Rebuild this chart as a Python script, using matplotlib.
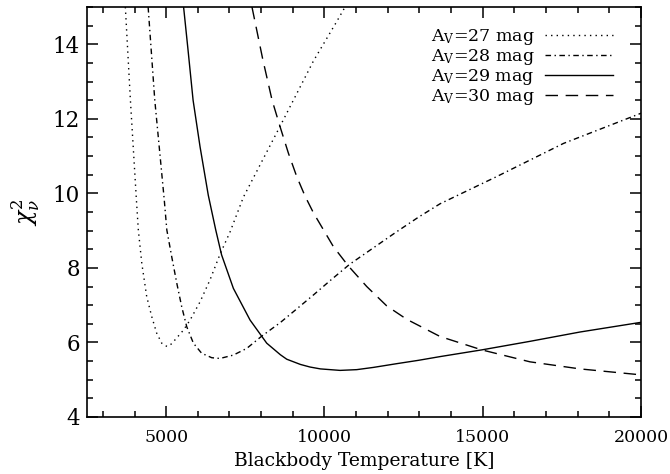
import matplotlib
matplotlib.use("Agg")
import matplotlib.pyplot as plt
from matplotlib.ticker import MultipleLocator

plt.rcParams['font.family'] = ['DejaVu Serif']
plt.rcParams['mathtext.fontset'] = 'dejavuserif'

# Reduced chi-square versus blackbody temperature for four extinction values
T27 = [3710, 3870, 4060, 4120, 4230, 4385, 4545, 4700, 4860, 4950, 5040, 5150,
       5280, 5545, 5755, 6070, 6385, 6702, 7020, 7440, 8597, 9650, 10380, 10650]
chi27 = [15.0, 12.5, 9.82, 9.02, 8.12, 7.23, 6.69, 6.25, 5.98, 5.92, 5.89, 5.95,
         6.07, 6.33, 6.60, 7.09, 7.68, 8.37, 8.97, 9.90, 11.80, 13.55, 14.60, 15.0]

T28 = [4430, 4640, 4940, 5020, 5175, 5335, 5490, 5650, 5860, 6120, 6440, 6700,
       7120, 7545, 8020, 8600, 9125, 9660, 10180, 10800, 12280, 12967, 13650,
       15440, 17550, 20000]
chi28 = [15.0, 12.5, 9.82, 9.02, 8.30, 7.59, 6.96, 6.42, 5.98, 5.71, 5.59, 5.57,
         5.66, 5.84, 6.17, 6.53, 6.90, 7.28, 7.66, 8.10, 8.97, 9.36, 9.72,
         10.45, 11.34, 12.15]

T29 = [5550, 5690, 5850, 6070, 6330, 6565, 6750, 7123, 7650, 8176, 8607, 8808,
       9239, 9545, 9871, 10492, 11018, 11545, 12280, 12967, 13651, 14967, 16494,
       18073, 20000]
chi29 = [15.0, 13.85, 12.5, 11.25, 9.95, 9.02, 8.35, 7.45, 6.60, 5.98, 5.67,
         5.55, 5.41, 5.34, 5.29, 5.25, 5.27, 5.33, 5.43, 5.52, 5.62, 5.80, 6.03,
         6.28, 6.54]

T30 = [7710, 8050, 8345, 8597, 8860, 9124, 9390, 9650, 10282, 10756, 11335,
       11967, 12600, 13650, 14970, 16490, 18070, 20000]
chi30 = [15.0, 13.60, 12.5, 11.79, 11.08, 10.45, 9.92, 9.48, 8.57, 8.05, 7.50,
         6.98, 6.62, 6.16, 5.80, 5.48, 5.29, 5.13]

labels = [r'A$_\mathrm{V}$=27 mag', r'A$_\mathrm{V}$=28 mag',
          r'A$_\mathrm{V}$=29 mag', r'A$_\mathrm{V}$=30 mag']

fig = plt.figure(figsize=(6.7, 4.74), dpi=100)
ax = fig.add_axes([0.1299, 0.1203, 0.8269, 0.8649])

lw = 1.0
ax.plot(T27, chi27, color='black', lw=lw, dashes=(1, 3), label=labels[0])
ax.plot(T28, chi28, color='black', lw=lw, dashes=(4, 2.5, 1, 2.5), label=labels[1])
ax.plot(T29, chi29, color='black', lw=lw, linestyle='-', label=labels[2])
ax.plot(T30, chi30, color='black', lw=lw, dashes=(9, 5.5), label=labels[3])

ax.set_xlim(2500, 20000)
ax.set_ylim(4, 15)

ax.xaxis.set_major_locator(MultipleLocator(5000))
ax.xaxis.set_minor_locator(MultipleLocator(1000))
ax.yaxis.set_major_locator(MultipleLocator(2))
ax.yaxis.set_minor_locator(MultipleLocator(0.5))

ax.tick_params(which='both', direction='in', top=True, right=True, width=1.1,
               color='black')
ax.tick_params(which='major', length=8)
ax.tick_params(which='minor', length=4)
ax.tick_params(axis='x', which='major', labelsize=12.5, pad=9)
ax.tick_params(axis='y', which='major', labelsize=15.5, pad=5)

for sp in ax.spines.values():
    sp.set_linewidth(1.2)

ax.set_xlabel('Blackbody Temperature [K]', fontsize=13.5, labelpad=4)
ax.set_ylabel(r'$\chi^2_\nu$', fontsize=17, labelpad=8)

leg = ax.legend(loc='upper right', bbox_to_anchor=(0.949, 0.952),
                frameon=False, markerfirst=False, fontsize=12.5,
                handlelength=3.9, handletextpad=0.6, labelspacing=0.0,
                borderpad=0, borderaxespad=0)

fig.savefig('out.png', dpi=100)
